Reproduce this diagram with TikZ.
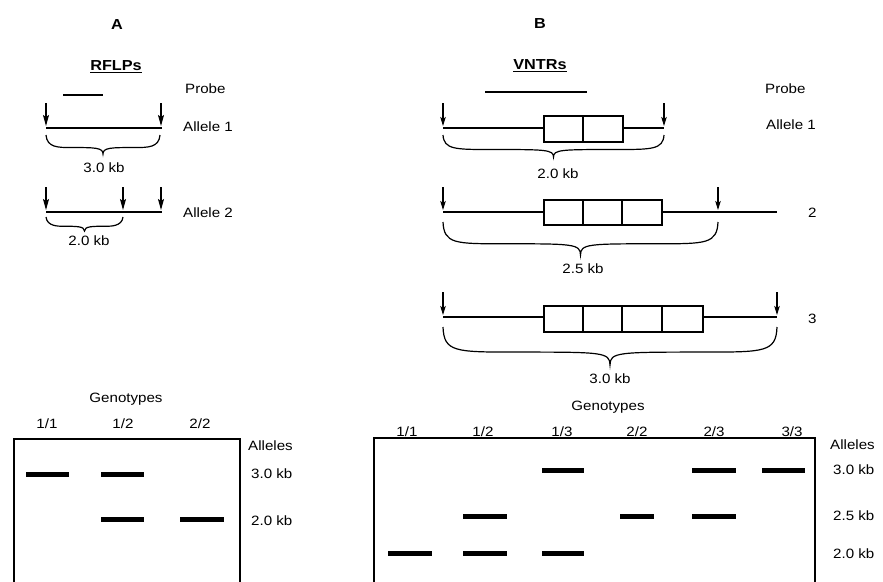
\documentclass[tikz,border=0pt]{standalone}
\usepackage{fontspec}
\setmainfont{Liberation Sans}[FakeStretch=1.12]
\usetikzlibrary{arrows.meta}
\tikzset{
  lbl/.style={inner sep=0pt, font=\fontsize{13.5}{16}\selectfont},
  ttl/.style={inner sep=0pt, font=\fontsize{14.5}{17}\selectfont\bfseries},
  dna/.style={line width=2pt},
  probeline/.style={line width=2pt},
  rep/.style={line width=1.3pt},
  cutA/.style={line width=1.1pt, -{Stealth[length=11pt,width=6pt,inset=2pt]}},
  cut/.style={line width=1.1pt, -{Stealth[length=9pt,width=5.5pt,inset=2pt]}},
  bracestyle/.style={line width=1.2pt},
  band/.style={line width=5pt},
  gel/.style={line width=1.3pt},
  uline/.style={line width=1pt}
}
\newcommand\mybrace[4]{%
  \pgfmathsetmacro\bxc{(#1+#2)/2}%
  \pgfmathsetmacro\bym{#3+0.66*(#4-#3)}%
  \pgfmathsetmacro\bql{#1+0.22*(#2-#1)}%
  \pgfmathsetmacro\bqr{#1+0.78*(#2-#1)}%
  \draw[bracestyle] (#1,#3) .. controls (#1+1,\bym) and (#1+12,\bym) .. (\bql,\bym)
     .. controls (\bxc-8,\bym) and (\bxc,\bym) .. (\bxc,#4)
     .. controls (\bxc,\bym) and (\bxc+8,\bym) .. (\bqr,\bym)
     .. controls (#2-12,\bym) and (#2-1,\bym) .. (#2,#3);}
\begin{document}
\begin{tikzpicture}[x=1pt,y=-1pt]
\useasboundingbox (0,0) rectangle (883,581);
\clip (0,0) rectangle (883,581);
\fill[white] (0,0) rectangle (883,581);

% ---------------- Panel A ----------------
\node[ttl,anchor=base] (tA) at (117,29.5) {A};
\node[ttl,anchor=base] (rflp) at (116,70) {RFLPs};
\draw[uline] ([yshift=-2pt]rflp.base west) -- ([yshift=-2pt]rflp.base east);
\node[lbl,anchor=base west] (probeA) at (185,93) {Probe};
\draw[probeline] (63,95) -- (103,95);
% allele 1
\coordinate (a1l) at (46,128); \coordinate (a1r) at (162,128);
\draw[dna] (a1l) -- (a1r);
\draw[cutA] (46,103) -- (46,126);
\draw[cutA] (161,103) -- (161,126);
\node[lbl,anchor=base west] (alA1) at (183,131) {Allele 1};
\mybrace{46}{160}{135}{154}
\node[lbl,anchor=base] (kbA1) at (104,172) {3.0 kb};
% allele 2
\coordinate (a2l) at (46,212); \coordinate (a2r) at (162,212);
\draw[dna] (a2l) -- (a2r);
\draw[cutA] (46,187) -- (46,210);
\draw[cutA] (123,187) -- (123,210);
\draw[cutA] (161,187) -- (161,210);
\node[lbl,anchor=base west] (alA2) at (183,217) {Allele 2};
\mybrace{46}{123}{217}{231}
\node[lbl,anchor=base] (kbA2) at (89,245) {2.0 kb};

% ---------------- Panel B ----------------
\node[ttl,anchor=base] (tB) at (540,28) {B};
\node[ttl,anchor=base] (vntr) at (540,69) {VNTRs};
\draw[uline] ([yshift=-2pt]vntr.base west) -- ([yshift=-2pt]vntr.base east);
\node[lbl,anchor=base west] (probeB) at (765,93) {Probe};
\draw[probeline] (485,92) -- (587,92);
% allele 1
\draw[dna] (443,128) -- (664,128);
\draw[rep,fill=white] (544,116) rectangle (623,142);
\draw[rep] (583,116) -- (583,142);
\draw[cut] (443,103) -- (443,126);
\draw[cut] (664,103) -- (664,126);
\node[lbl,anchor=base west] (alB1) at (766,129) {Allele 1};
\mybrace{443}{664}{135}{157}
\node[lbl,anchor=base] (kbB1) at (558,178) {2.0 kb};
% allele 2
\draw[dna] (443,212) -- (777,212);
\draw[rep,fill=white] (544,200) rectangle (662,225);
\draw[rep] (583,200) -- (583,225) (622,200) -- (622,225);
\draw[cut] (443,187) -- (443,210);
\draw[cut] (718,187) -- (718,210);
\node[lbl,anchor=base west] (alB2) at (808,217) {2};
\mybrace{443}{718}{222}{255}
\node[lbl,anchor=base] (kbB2) at (583,273) {2.5 kb};
% allele 3
\draw[dna] (443,317) -- (777,317);
\draw[rep,fill=white] (544,306) rectangle (703,332);
\draw[rep] (583,306) -- (583,332) (622,306) -- (622,332) (662,306) -- (662,332);
\draw[cut] (443,292) -- (443,315);
\draw[cut] (777,292) -- (777,315);
\node[lbl,anchor=base west] (alB3) at (808,323) {3};
\mybrace{443}{777}{327}{365}
\node[lbl,anchor=base] (kbB3) at (610,383) {3.0 kb};

% ---------------- Gel A ----------------
\node[lbl,anchor=base] (genA) at (126,402) {Genotypes};
\node[lbl,anchor=base] (gA1) at (47,428) {1/1};
\node[lbl,anchor=base] (gA2) at (123,428) {1/2};
\node[lbl,anchor=base] (gA3) at (200,428) {2/2};
\draw[gel] (14,600) -- (14,439) -- (240,439) -- (240,600);
\node[lbl,anchor=base west] (allA) at (248,450) {Alleles};
\node[lbl,anchor=base west] (sA30) at (251,478) {3.0 kb};
\node[lbl,anchor=base west] (sA20) at (251,525) {2.0 kb};
\draw[band] (26,474) -- (69,474);
\draw[band] (101,474) -- (144,474);
\draw[band] (101,519) -- (144,519);
\draw[band] (180,519) -- (224,519);

% ---------------- Gel B ----------------
\node[lbl,anchor=base] (genB) at (608,410) {Genotypes};
\node[lbl,anchor=base] (gB1) at (407,436) {1/1};
\node[lbl,anchor=base] (gB2) at (483,436) {1/2};
\node[lbl,anchor=base] (gB3) at (562,436) {1/3};
\node[lbl,anchor=base] (gB4) at (637,436) {2/2};
\node[lbl,anchor=base] (gB5) at (714,436) {2/3};
\node[lbl,anchor=base] (gB6) at (792,436) {3/3};
\draw[gel] (374,600) -- (374,438) -- (815,438) -- (815,600);
\node[lbl,anchor=base west] (allB) at (830,449) {Alleles};
\node[lbl,anchor=base west] (sB30) at (833,474) {3.0 kb};
\node[lbl,anchor=base west] (sB25) at (833,520.5) {2.5 kb};
\node[lbl,anchor=base west] (sB20) at (833,558) {2.0 kb};
\draw[band] (542,470) -- (584,470);
\draw[band] (692,470) -- (736,470);
\draw[band] (762,470) -- (805,470);
\draw[band] (463,516) -- (507,516);
\draw[band] (620,516) -- (654,516);
\draw[band] (692,516) -- (736,516);
\draw[band] (388,553) -- (432,553);
\draw[band] (463,553) -- (507,553);
\draw[band] (542,553) -- (584,553);
\end{tikzpicture}
\end{document}
